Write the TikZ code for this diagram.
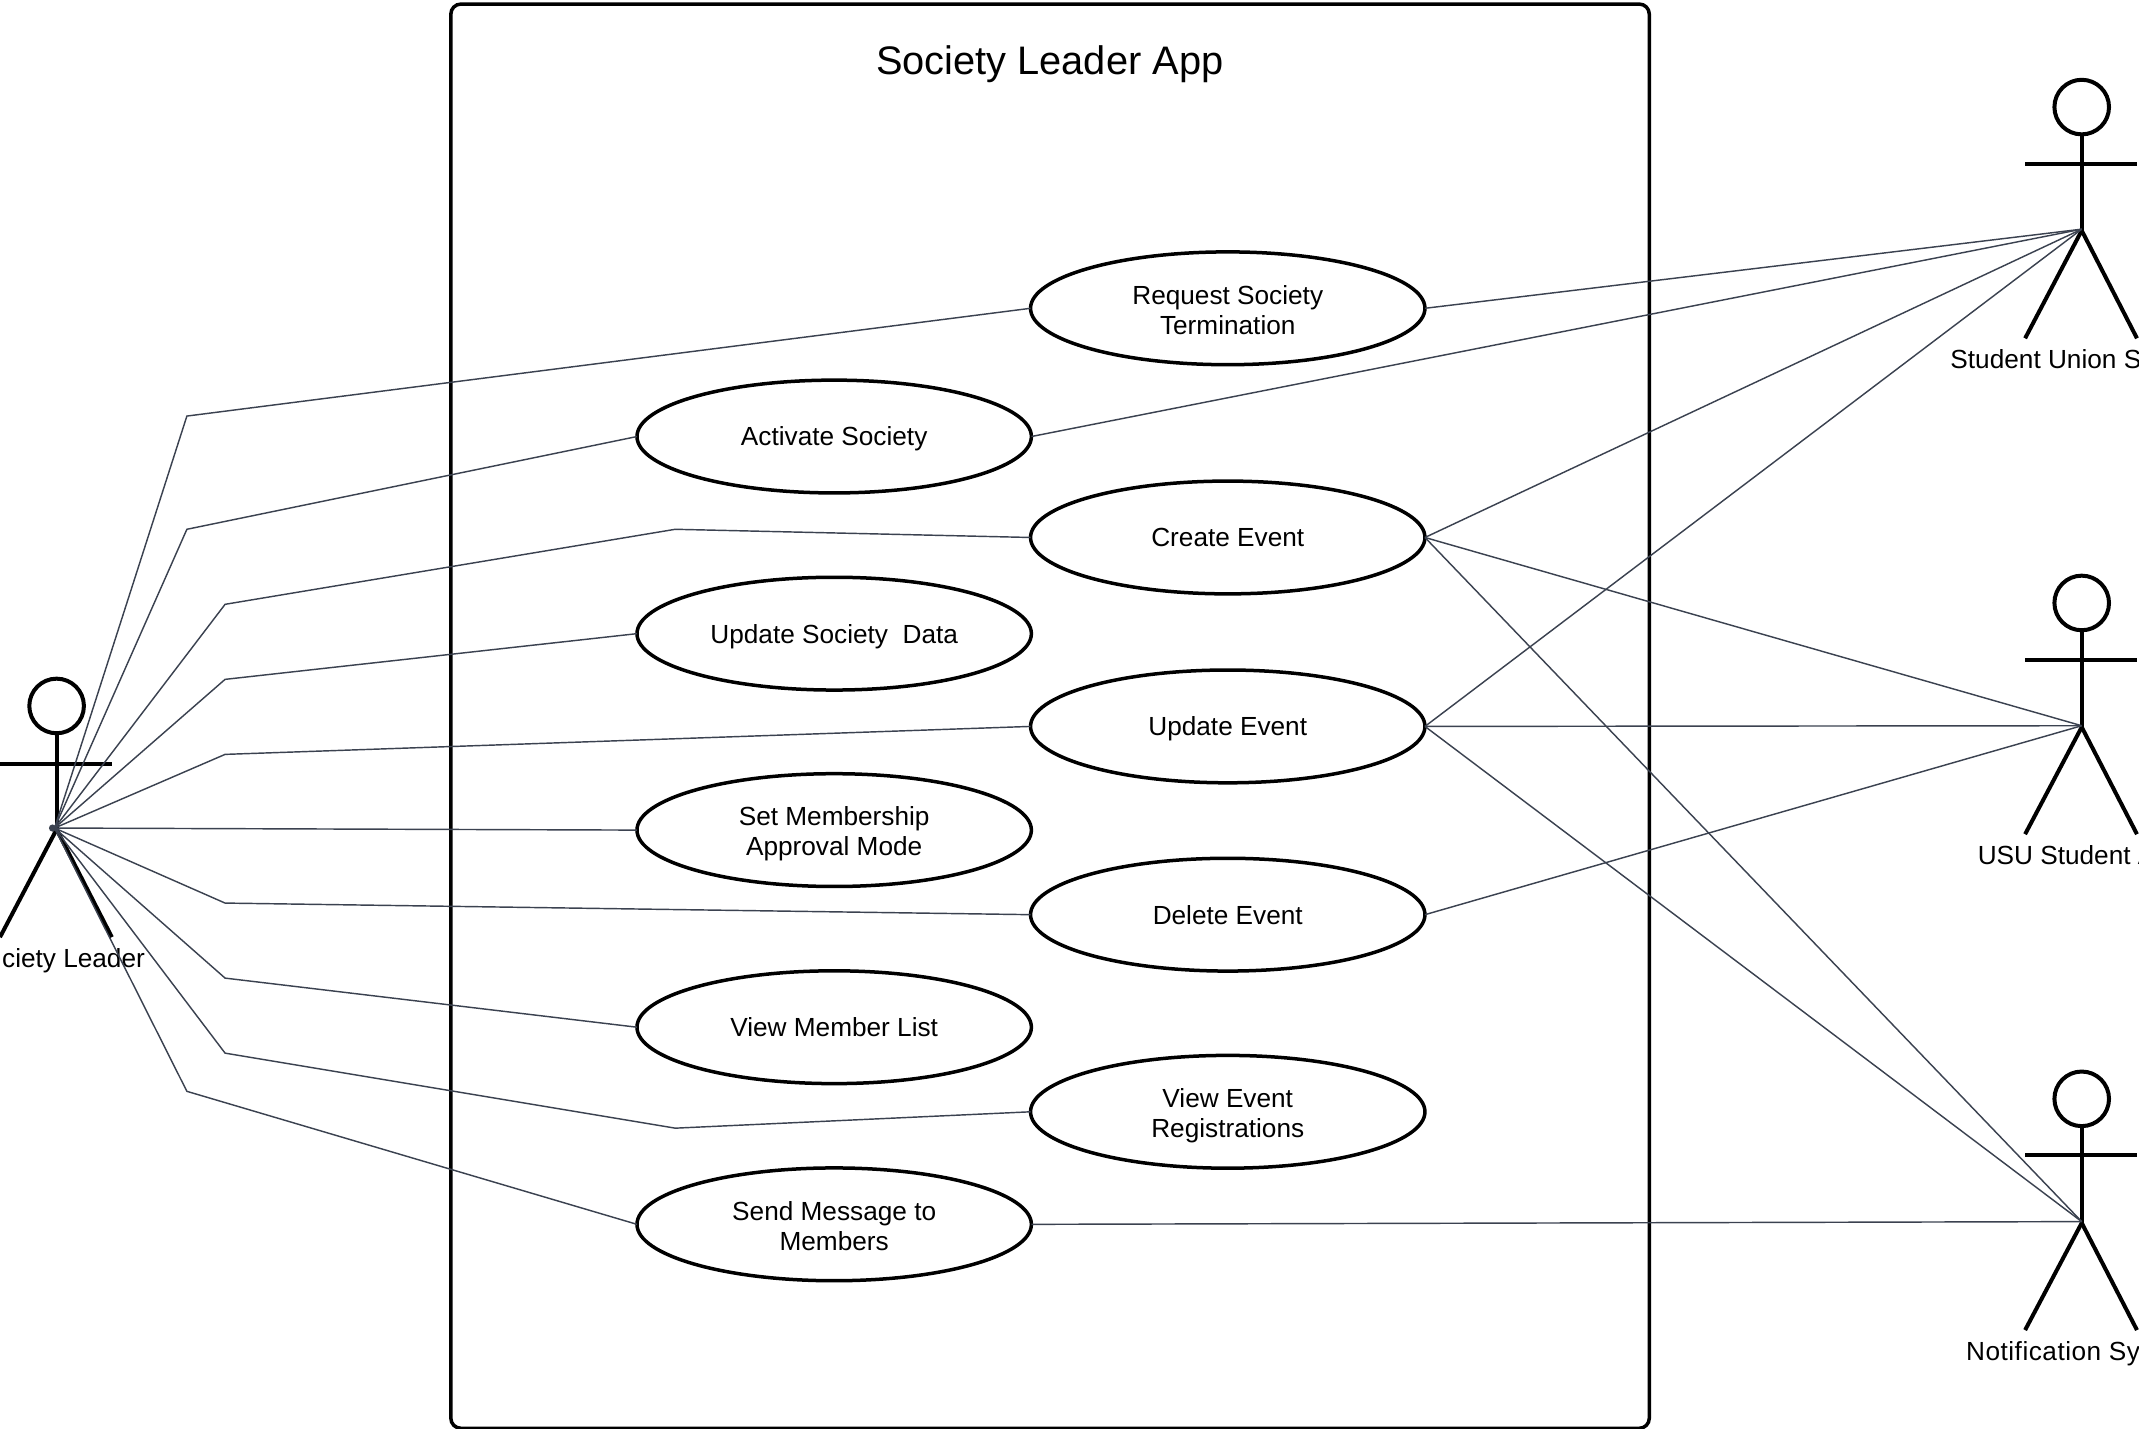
\documentclass[tikz,border=0pt]{standalone}
\usepackage{fontspec}
\setmainfont{Liberation Sans}
\usetikzlibrary{shapes.geometric}
\definecolor{linkgrey}{HTML}{3B4250}
\newcommand{\usetwo}[2]{\raisebox{-0.7pt}[0pt][0pt]{\begin{tabular}[c]{@{}c@{}}#1\\#2\end{tabular}}}
\tikzset{
  usecase/.style={ellipse,draw=black,line width=1.75pt,fill=white,minimum width=197.2pt,minimum height=56.4pt,inner sep=0pt,outer sep=0pt,align=center,font=\fontsize{13.1}{15}\selectfont,
    execute at begin node={\rule[-3pt]{0pt}{15.4pt}},execute at end node={\rule[-3pt]{0pt}{0pt}}},
  assoc/.style={draw=linkgrey,line width=0.72pt,line join=miter},
  stick/.style={draw=black,line width=2pt},
  headc/.style={circle,draw=black,line width=2pt,minimum size=27.3pt,inner sep=0pt,outer sep=0pt},
  actortext/.style={inner sep=0pt,font=\fontsize{13.1}{15}\selectfont},
  titletext/.style={inner sep=0pt,font=\fontsize{19.9}{24}\selectfont},
  boundary/.style={draw=black,line width=1.75pt,rounded corners=5pt,fill=white}
}
\begin{document}
\begin{tikzpicture}[x=0.68208pt,y=-0.68208pt]
\useasboundingbox (0,0) rectangle (1568,1047.5);
\clip (0,0) rectangle (1568,1047.5);
% system boundary
\draw[boundary] (330.5,3) rectangle (1209,1047);
\node[titletext] (title) at (769.5,47) {Society Leader App};
% hubs
\coordinate (hubL) at (40,607);
\coordinate (hubU) at (1526,168);
\coordinate (hubS) at (1526,532);
\coordinate (hubN) at (1526,895.5);
% use cases
\node[usecase] (req) at (900,226) {\usetwo{Request Society}{Termination}};
\node[usecase] (act) at (611.5,320) {Activate Society};
\node[usecase] (cre) at (900,394) {Create Event};
\node[usecase] (upd) at (611.5,464.5) {Update Society\ \ Data};
\node[usecase] (uev) at (900,532.5) {Update Event};
\node[usecase] (mem) at (611.5,608.5) {\usetwo{Set Membership}{Approval Mode}};
\node[usecase] (dev) at (900,670.5) {Delete Event};
\node[usecase] (vml) at (611.5,753) {View Member List};
\node[usecase] (ver) at (900,815) {\usetwo{View Event}{Registrations}};
\node[usecase] (msg) at (611.5,897.5) {\usetwo{Send Message to}{Members}};
% actors
\node[headc] (headL) at (41.5,517.5) {};
\draw[stick] (headL.south) -- (41.5,610);
\draw[stick] (-1,560) -- (82,560);
\draw[stick] (41.5,608) -- (0,687);
\draw[stick] (41.5,608) -- (82,687);
\node[headc] (headU) at (1526,78.5) {};
\draw[stick] (headU.south) -- (1526,170);
\draw[stick] (1484.5,120) -- (1566.5,120);
\draw[stick] (1526,169) -- (1484.5,248);
\draw[stick] (1526,169) -- (1566.5,248);
\node[headc] (headS) at (1526,442) {};
\draw[stick] (headS.south) -- (1526,534);
\draw[stick] (1484.5,483.5) -- (1566.5,483.5);
\draw[stick] (1526,533) -- (1484.5,611.5);
\draw[stick] (1526,533) -- (1566.5,611.5);
\node[headc] (headN) at (1526,805.5) {};
\draw[stick] (headN.south) -- (1526,897.5);
\draw[stick] (1484.5,847) -- (1566.5,847);
\draw[stick] (1526,896.5) -- (1484.5,975);
\draw[stick] (1526,896.5) -- (1566.5,975);
% labels (as cut by the picture edge)
\node[actortext,anchor=base east] (labL) at (106.5,709.5) {ciety Leader};
\node[actortext,anchor=base west] (labU) at (1429.5,270) {Student Union S};
\node[actortext,anchor=base west] (labS) at (1449.5,633.5) {USU Student A};
\node[actortext,anchor=base west] (labN) at (1441,997) {\addfontfeature{LetterSpace=1.9}Notification Sy};
% associations, left
\fill[linkgrey] (38.5,607) circle (1.8pt);
\draw[assoc] (hubL) -- (137,305) -- (req.west);
\draw[assoc] (hubL) -- (137,388) -- (act.west);
\draw[assoc] (hubL) -- (165,443) -- (495,388) -- (cre.west);
\draw[assoc] (hubL) -- (165,498) -- (upd.west);
\draw[assoc] (hubL) -- (165,553) -- (uev.west);
\draw[assoc] (hubL) -- (mem.west);
\draw[assoc] (hubL) -- (165,662) -- (dev.west);
\draw[assoc] (hubL) -- (165,717) -- (vml.west);
\draw[assoc] (hubL) -- (165,772) -- (495,827) -- (ver.west);
\draw[assoc] (hubL) -- (137,800) -- (msg.west);
% associations, right
\draw[assoc] (req.east) -- (hubU);
\draw[assoc] (act.east) -- (hubU);
\draw[assoc] (cre.east) -- (hubU);
\draw[assoc] (uev.east) -- (hubU);
\draw[assoc] (cre.east) -- (hubS);
\draw[assoc] (uev.east) -- (hubS);
\draw[assoc] (dev.east) -- (hubS);
\draw[assoc] (cre.east) -- (hubN);
\draw[assoc] (uev.east) -- (hubN);
\draw[assoc] (msg.east) -- (hubN);
\end{tikzpicture}
\end{document}
